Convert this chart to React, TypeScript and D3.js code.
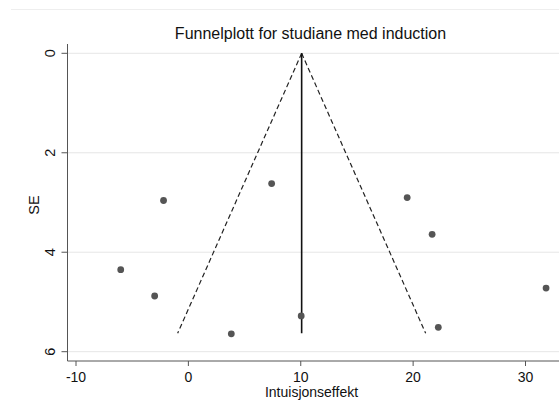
import React from "react";
import * as d3 from "d3";

const effects = [-2.21, 7.41, 19.47, 21.69, -6.02, -3.0, 31.83, 10.04, 3.82, 22.24];
const ses = [2.96, 2.62, 2.9, 3.64, 4.35, 4.88, 4.72, 5.28, 5.64, 5.51];
const pooledEffect = 10.08;
const maxSE = 5.63;
const zCrit = 1.96;
const xTicks = [-10, 0, 10, 20, 30];
const yTicks = [0, 2, 4, 6];
const title = "Funnelplott for studiane med induction";
const xLabel = "Intuisjonseffekt";
const yLabel = "SE";

export default function App() {
  const W = 559;
  const H = 410;
  const x = d3.scaleLinear().domain([-10, 30]).range([76, 525.5]);
  const y = d3.scaleLinear().domain([0, 6]).range([53.3, 351.7]);
  const axisX = 67.5;
  const axisY = 361;
  const font = "'Liberation Sans', Arial, sans-serif";
  const line = d3.line<[number, number]>().x((d) => x(d[0])).y((d) => y(d[1]));
  const leftFunnel: [number, number][] = [
    [pooledEffect, 0],
    [pooledEffect - zCrit * maxSE, maxSE],
  ];
  const rightFunnel: [number, number][] = [
    [pooledEffect, 0],
    [pooledEffect + zCrit * maxSE, maxSE],
  ];
  const vertical: [number, number][] = [
    [pooledEffect, 0],
    [pooledEffect, maxSE],
  ];
  return (
    <svg width={W} height={H} style={{ position: "absolute", left: 0, top: 0, background: "#fff" }}>
      <rect x={0} y={0} width={W} height={H} fill="#fff" />
      <line x1={11} x2={W} y1={9.5} y2={9.5} stroke="#eeeeee" strokeWidth={1} />
      <text x={310.5} y={38.5} textAnchor="middle" fontFamily={font} fontSize={16} fill="#111">
        {title}
      </text>
      {yTicks.map((t) => (
        <g key={"g" + t}>
          <line x1={axisX} x2={W} y1={y(t)} y2={y(t)} stroke="#e6e6e6" strokeWidth={1} />
          <line x1={axisX - 6} x2={axisX} y1={y(t)} y2={y(t)} stroke="#555" strokeWidth={1} />
          <text
            transform={`translate(${54.5},${y(t)}) rotate(-90)`}
            textAnchor="middle"
            fontFamily={font}
            fontSize={14.5}
            fill="#111"
          >
            {t}
          </text>
        </g>
      ))}
      {xTicks.map((t) => (
        <g key={"x" + t}>
          <line x1={x(t)} x2={x(t)} y1={axisY} y2={axisY + 5} stroke="#555" strokeWidth={1} />
          <text x={x(t)} y={axisY + 20.5} textAnchor="middle" fontFamily={font} fontSize={14} fill="#111">
            {t}
          </text>
        </g>
      ))}
      <line x1={axisX} x2={axisX} y1={44} y2={axisY} stroke="#555" strokeWidth={1} />
      <line x1={axisX} x2={W} y1={axisY} y2={axisY} stroke="#555" strokeWidth={1} />
      <text x={311.5} y={397} textAnchor="middle" fontFamily={font} fontSize={14} fill="#111">
        {xLabel}
      </text>
      <text
        transform={`translate(${38.5},${205}) rotate(-90)`}
        textAnchor="middle"
        fontFamily={font}
        fontSize={14.5}
        fill="#111"
      >
        {yLabel}
      </text>
      <path d={line(leftFunnel) || ""} fill="none" stroke="#222" strokeWidth={1.2} strokeDasharray="5,3" />
      <path d={line(rightFunnel) || ""} fill="none" stroke="#222" strokeWidth={1.2} strokeDasharray="5,3" />
      <path d={line(vertical) || ""} fill="none" stroke="#111" strokeWidth={1.6} />
      {effects.map((e, i) => (
        <circle key={i} cx={x(e)} cy={y(ses[i])} r={3.4} fill="#555" />
      ))}
    </svg>
  );
}
